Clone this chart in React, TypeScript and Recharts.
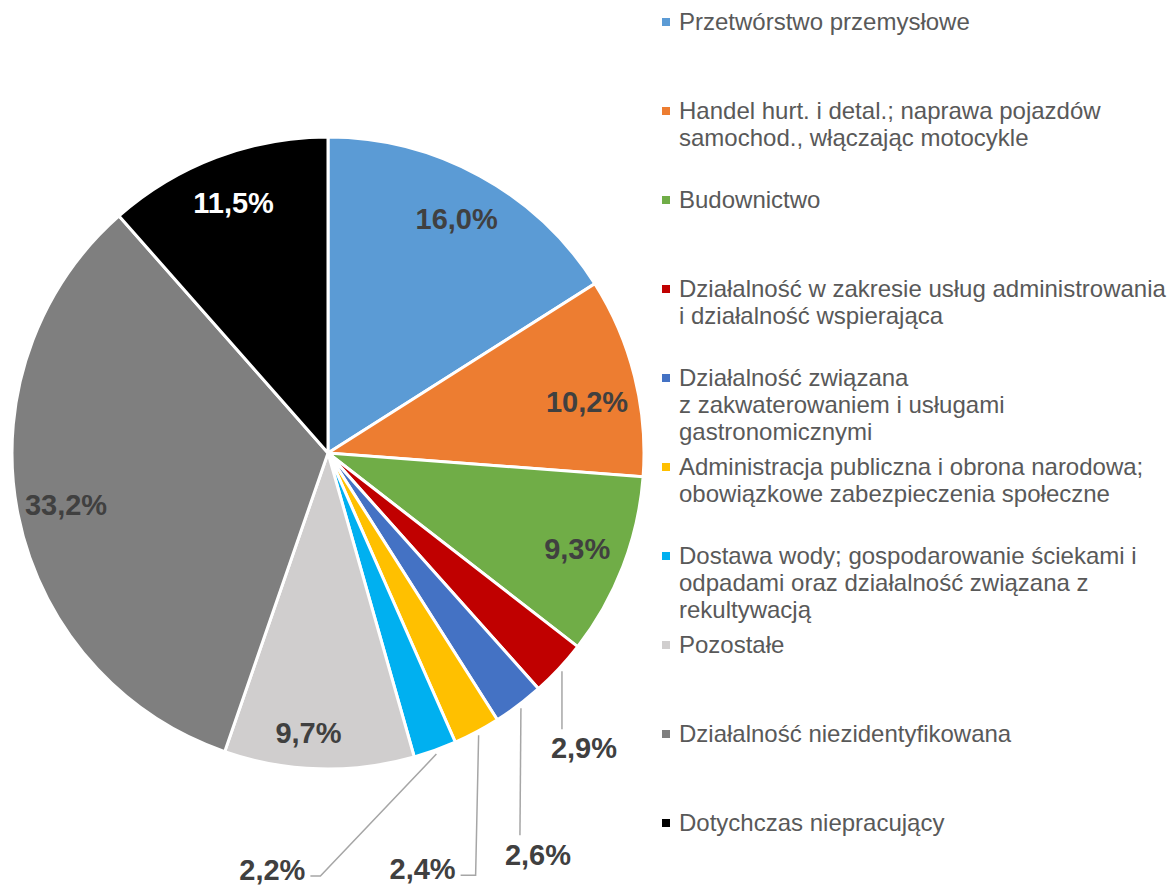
import { PieChart, Pie, Cell, Legend } from "recharts";

const sectors = [
  "Przetwórstwo przemysłowe",
  "Handel hurt. i detal.; naprawa pojazdów\nsamochod., włączając motocykle",
  "Budownictwo",
  "Działalność w zakresie usług administrowania\ni działalność wspierająca",
  "Działalność związana\nz zakwaterowaniem i usługami\ngastronomicznymi",
  "Administracja publiczna i obrona narodowa;\nobowiązkowe zabezpieczenia społeczne",
  "Dostawa wody; gospodarowanie ściekami i\nodpadami oraz działalność związana z\nrekultywacją",
  "Pozostałe",
  "Działalność niezidentyfikowana",
  "Dotychczas niepracujący",
];

const shares = [16.0, 10.2, 9.3, 2.9, 2.6, 2.4, 2.2, 9.7, 33.2, 11.5];

const colors = [
  "#5B9BD5",
  "#ED7D31",
  "#70AD47",
  "#C00000",
  "#4472C4",
  "#FFC000",
  "#00B0F0",
  "#D0CECE",
  "#7F7F7F",
  "#000000",
];

const data = sectors.map((name, i) => ({ name, value: shares[i] }));

const RADIAN = Math.PI / 180;
const FONT = "'Liberation Sans', Arial, sans-serif";

// leader line layout for the small outside labels (offsets from the slice edge)
const leaders: Record<number, { dy: number; dx: number; hx: number; tx: number; ty: number; anchor: string }> = {
  3: { dx: 0, dy: 58, hx: 0, tx: 22, ty: 19, anchor: "middle" },
  4: { dx: -1, dy: 127, hx: 0, tx: 18, ty: 20, anchor: "middle" },
  5: { dx: -3, dy: 140, hx: -15, tx: -5, ty: -6, anchor: "end" },
  6: { dx: -116, dy: 122, hx: -10, tx: -5, ty: -6, anchor: "end" },
};

// small nudges of the inside labels
const insideNudge: Record<number, { dx: number; dy: number }> = {
  1: { dx: 0, dy: 14 },
  7: { dx: -12, dy: 13 },
};

const fmt = (v: number) => v.toFixed(1).replace(".", ",") + "%";

const renderLabel = (props: any) => {
  const { cx, cy, midAngle, outerRadius, index, value } = props;
  const cos = Math.cos(-midAngle * RADIAN);
  const sin = Math.sin(-midAngle * RADIAN);
  const lead = leaders[index];
  if (!lead) {
    const r = outerRadius * 0.845;
    const n = insideNudge[index] || { dx: 0, dy: 0 };
    return (
      <text
        x={cx + r * cos + n.dx}
        y={cy + r * sin + n.dy}
        fill={index === 9 ? "#FFFFFF" : "#404040"}
        textAnchor="middle"
        dominantBaseline="central"
        fontFamily={FONT}
        fontWeight="bold"
        fontSize={29}
      >
        {fmt(value)}
      </text>
    );
  }
  const ax = cx + (outerRadius + 4) * cos;
  const ay = cy + (outerRadius + 4) * sin;
  const bx = ax + lead.dx;
  const by = ay + lead.dy;
  const ex = bx + lead.hx;
  return (
    <g>
      <polyline
        points={`${ax},${ay} ${bx},${by} ${ex},${by}`}
        fill="none"
        stroke="#A6A6A6"
        strokeWidth={1.5}
      />
      <text
        x={ex + lead.tx}
        y={by + lead.ty}
        fill="#404040"
        textAnchor={lead.anchor as any}
        dominantBaseline="central"
        fontFamily={FONT}
        fontWeight="bold"
        fontSize={29}
      >
        {fmt(value)}
      </text>
    </g>
  );
};

const renderLegend = () => (
  <div style={{ position: "relative", width: 513, height: 885, fontFamily: FONT }}>
    {data.map((d, i) => (
      <div
        key={d.name}
        style={{
          position: "absolute",
          left: 0,
          top: 22 + i * 89 - 14,
          display: "flex",
          alignItems: "flex-start",
        }}
      >
        <span
          style={{
            display: "inline-block",
            width: 8,
            height: 8,
            marginTop: 10,
            marginRight: 9,
            background: colors[i],
          }}
        />
        <span
          style={{
            whiteSpace: "pre",
            fontSize: 24,
            lineHeight: "27px",
            color: "#595959",
          }}
        >
          {d.name}
        </span>
      </div>
    ))}
  </div>
);

export default function App() {
  return (
    <div style={{ position: "absolute", left: 0, top: 0, background: "#fff" }}>
      <PieChart width={1175} height={885} margin={{ top: 0, right: 0, bottom: 0, left: 0 }}>
        <Pie
          data={data}
          dataKey="value"
          nameKey="name"
          cx={328}
          cy={453}
          outerRadius={316}
          startAngle={90}
          endAngle={-270}
          stroke="#FFFFFF"
          strokeWidth={3}
          labelLine={false}
          label={renderLabel}
          isAnimationActive={false}
        >
          {data.map((d, i) => (
            <Cell key={d.name} fill={colors[i]} />
          ))}
        </Pie>
        <Legend
          content={renderLegend}
          wrapperStyle={{ position: "absolute", left: 662, top: 0, width: 513, height: 885 }}
        />
      </PieChart>
    </div>
  );
}
